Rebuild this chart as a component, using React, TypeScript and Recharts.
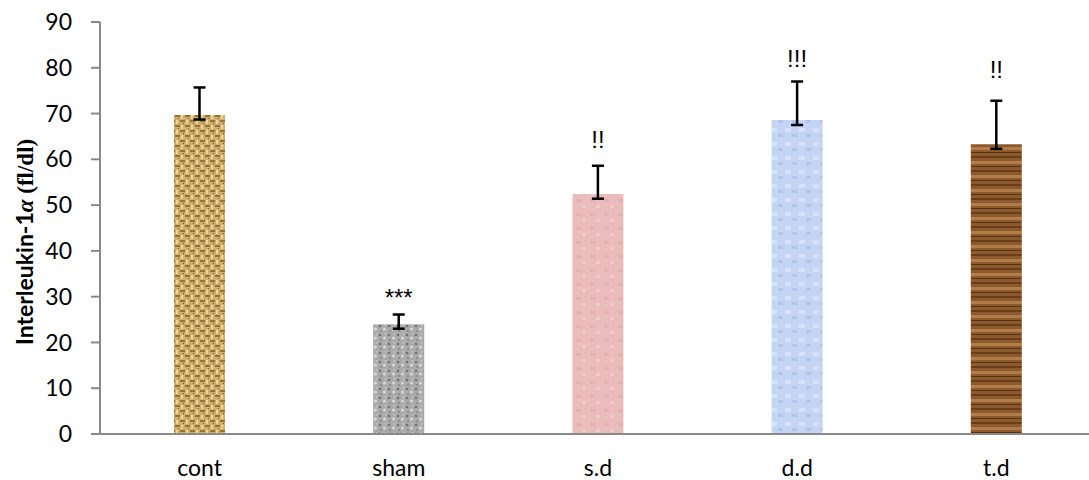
import { BarChart, Bar, XAxis, YAxis, ErrorBar, Cell, LabelList, Label } from 'recharts'

const categories = ['cont', 'sham', 's.d', 'd.d', 't.d']
const il1Values = [69.7, 24.0, 52.4, 68.6, 63.3]
const errLow = [1.0, 1.0, 1.0, 1.1, 1.0]
const errHigh = [6.0, 2.1, 6.2, 8.4, 9.5]
const marks = ['', '***', '!!', '!!!', '!!']
const markLevel = [0, 27.9, 62.4, 80.2, 77.7]
const yTicks = [0, 10, 20, 30, 40, 50, 60, 70, 80, 90]

const data = categories.map((name, i) => ({
  name,
  value: il1Values[i],
  err: [errLow[i], errHigh[i]],
  mark: marks[i]
}))

const font = 'Lato, "Liberation Sans", sans-serif'
const axisGray = '#898989'

function Textures() {
  return (
    <defs>
      <pattern id="tex0" width="10" height="10" patternUnits="userSpaceOnUse">
        <rect width="10" height="10" fill="#cfae6e" />
        <rect x="0" y="0" width="5" height="2" fill="#94733a" />
        <rect x="5" y="5" width="5" height="2" fill="#94733a" />
        <rect x="6" y="0" width="2" height="4" fill="#ecd596" />
        <rect x="1" y="5" width="2" height="4" fill="#ecd596" />
        <rect x="3" y="3" width="1" height="1" fill="#6e5222" />
        <rect x="8" y="8" width="1" height="1" fill="#7d5f2a" />
      </pattern>
      <pattern id="tex1" width="9" height="9" patternUnits="userSpaceOnUse">
        <rect width="9" height="9" fill="#aaaaaa" />
        <circle cx="2" cy="2" r="1.3" fill="#707070" />
        <circle cx="6.5" cy="5" r="1.5" fill="#d9d9d9" />
        <circle cx="3" cy="7" r="1" fill="#858585" />
        <circle cx="7.5" cy="1" r="0.9" fill="#c8c8c8" />
      </pattern>
      <pattern id="tex2" width="14" height="14" patternUnits="userSpaceOnUse">
        <rect width="14" height="14" fill="#ebbcbc" />
        <rect x="2" y="3" width="5" height="3" fill="#e4b0b0" />
        <rect x="8" y="9" width="4" height="3" fill="#f1caca" />
      </pattern>
      <pattern id="tex3" width="14" height="14" patternUnits="userSpaceOnUse">
        <rect width="14" height="14" fill="#c3d5f3" />
        <rect x="1" y="2" width="6" height="4" fill="#d5e3fa" />
        <rect x="8" y="8" width="5" height="3" fill="#b0c4ec" />
      </pattern>
      <pattern id="tex4" width="51" height="14" patternUnits="userSpaceOnUse">
        <rect width="51" height="14" fill="#8c5a2c" />
        <rect x="0" y="2" width="51" height="2" fill="#683e1b" />
        <rect x="0" y="7" width="51" height="3" fill="#b37d4a" />
        <rect x="0" y="12" width="51" height="1" fill="#573112" />
      </pattern>
    </defs>
  )
}

function YLabel() {
  return (
    <text
      transform="translate(33, 345) rotate(-90)"
      textAnchor="start"
      fontSize={23}
      fontWeight="bold"
      fill="#000"
      fontFamily={font}
    >
      Interleukin-1
      <tspan fontFamily='"Liberation Serif", serif' fontStyle="italic">α</tspan>
      <tspan fontFamily='"Liberation Serif", serif'> (fl/dl)</tspan>
    </text>
  )
}

function renderMark(props: any) {
  const { x, y, width, height, value, index } = props
  if (!value) return null
  const v = il1Values[index]
  const base = y + height
  const py = base - (markLevel[index] * height) / v
  return (
    <text
      x={x + width / 2}
      y={py}
      textAnchor="middle"
      fontSize={24}
      fontFamily='"Liberation Sans", sans-serif'
      fill="#000"
    >
      {value}
    </text>
  )
}

export default function App() {
  return (
    <div style={{ position: 'absolute', left: 0, top: 0, width: 1089, height: 480, overflow: 'hidden', background: '#fff' }}>
      <BarChart width={1096} height={480} data={data} margin={{ top: 22, right: 0, bottom: 0, left: 0 }}>
        <Textures />
        <XAxis
          dataKey="name"
          height={46}
          tickLine={false}
          tickSize={0}
          tickMargin={26}
          axisLine={{ stroke: axisGray, strokeWidth: 2 }}
          tick={{ fontSize: 23, fill: '#000', fontFamily: font }}
        />
        <YAxis
          width={100}
          domain={[0, 90]}
          ticks={yTicks}
          interval={0}
          tickSize={9}
          tickMargin={19}
          axisLine={{ stroke: axisGray, strokeWidth: 2 }}
          tickLine={{ stroke: axisGray, strokeWidth: 2 }}
          tick={{ fontSize: 23, fill: '#000', fontFamily: font }}
        >
          <Label content={<YLabel />} />
        </YAxis>
        <Bar dataKey="value" barSize={51} isAnimationActive={false}>
          {data.map((d, i) => (
            <Cell key={d.name} fill={`url(#tex${i})`} />
          ))}
          <ErrorBar dataKey="err" direction="y" width={6} stroke="#000" strokeWidth={2.5} />
          <LabelList dataKey="mark" content={renderMark} />
        </Bar>
      </BarChart>
    </div>
  )
}
